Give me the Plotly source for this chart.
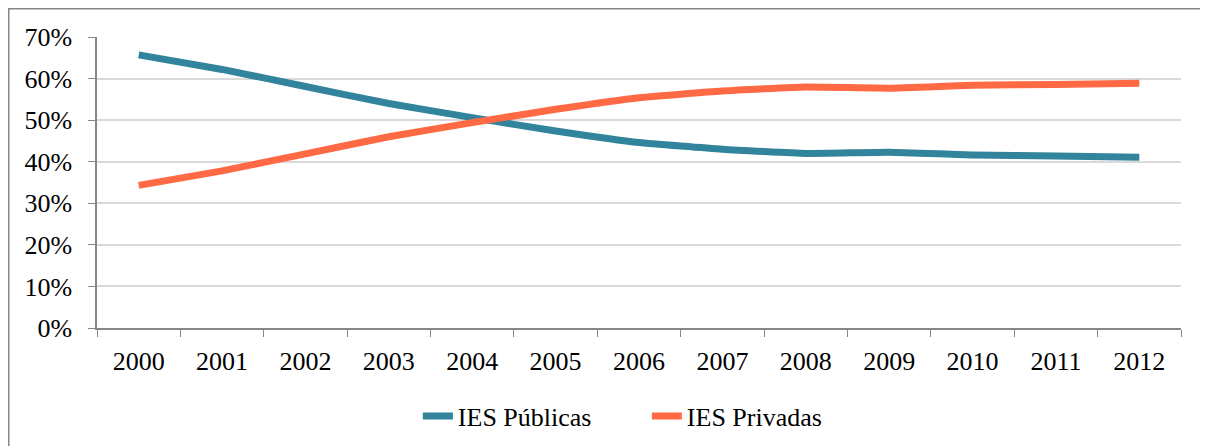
import plotly.graph_objects as go

# ------------------------------
# Data
# ------------------------------
years = ['2000', '2001', '2002', '2003', '2004', '2005', '2006',
         '2007', '2008', '2009', '2010', '2011', '2012']
publicas = [65.7, 62.2, 58.1, 54.0, 50.6, 47.4, 44.6, 43.0, 42.0, 42.3, 41.6, 41.4, 41.1]
privadas = [34.3, 37.8, 41.9, 46.0, 49.4, 52.6, 55.4, 57.0, 58.0, 57.7, 58.4, 58.6, 58.9]
y_ticks = [0, 10, 20, 30, 40, 50, 60, 70]
y_labels = ['0%', '10%', '20%', '30%', '40%', '50%', '60%', '70%']

FONT = 'Liberation Serif'
AXIS_GRAY = '#868686'

fig = go.Figure()

fig.add_trace(go.Scatter(
    x=years, y=publicas, mode='lines', name='IES Públicas',
    line=dict(color='#31849B', width=7, shape='spline', smoothing=0.4),
))
fig.add_trace(go.Scatter(
    x=years, y=privadas, mode='lines', name='IES Privadas',
    line=dict(color='#FF6A45', width=7, shape='spline', smoothing=0.4),
))

# outer chart frame (runs off the right/bottom edge like the reference)
fig.add_shape(type='rect', xref='paper', yref='paper',
              x0=-0.0814, x1=1.05, y0=-0.5, y1=1.097,
              line=dict(color=AXIS_GRAY, width=1.5), layer='below')

# page body has an 8px margin, so the figure is sized/shifted to fit
fig.update_layout(
    width=1200, height=438,
    margin=dict(l=89, r=27, t=29, b=118, autoexpand=False),
    paper_bgcolor='white', plot_bgcolor='white',
    font=dict(family=FONT, size=26, color='black'),
    showlegend=True,
    legend=dict(orientation='h', x=0.296, xanchor='left', y=-0.303, yanchor='middle',
                font=dict(size=26), entrywidth=184, tracegroupgap=0),
    xaxis=dict(
        type='category', range=[-0.5, 12.5],
        showline=True, linecolor=AXIS_GRAY, linewidth=1.5,
        ticks='outside', tickson='boundaries', ticklen=7, tickcolor=AXIS_GRAY,
        ticklabelstandoff=9, showgrid=False, zeroline=False,
    ),
    yaxis=dict(
        range=[0, 70], tickmode='array', tickvals=y_ticks, ticktext=y_labels,
        showline=True, linecolor=AXIS_GRAY, linewidth=1.5,
        ticks='outside', ticklen=7, tickcolor=AXIS_GRAY, ticklabelstandoff=11,
        showgrid=True, gridcolor='#D9D9D9', gridwidth=1.5, zeroline=False,
    ),
)

fig.write_html("out.html")
